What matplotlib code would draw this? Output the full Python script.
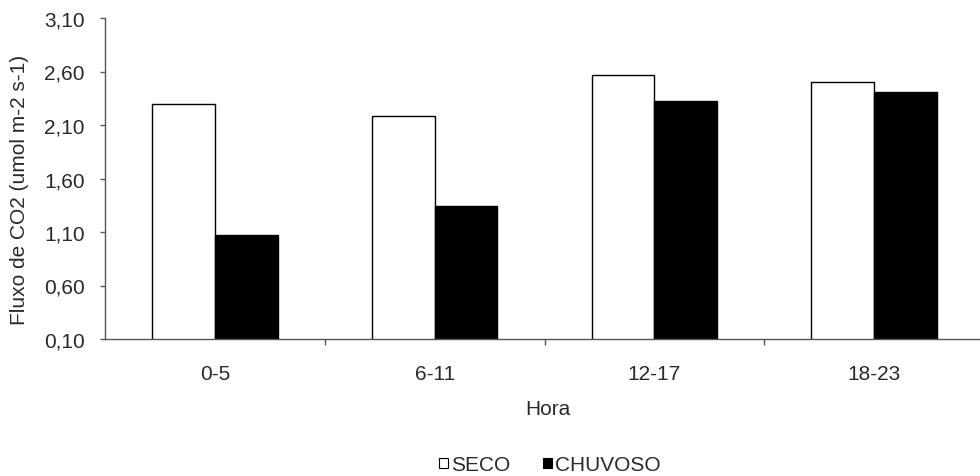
import matplotlib
matplotlib.use("Agg")
import matplotlib.pyplot as plt
from matplotlib.patches import Patch
from matplotlib.ticker import FixedLocator, FuncFormatter
import numpy as np

plt.rcParams['font.family'] = ['Liberation Sans', 'DejaVu Sans']

horas = ["0-5", "6-11", "12-17", "18-23"]
seco = [2.30, 2.18, 2.57, 2.50]
chuvoso = [1.07, 1.34, 2.32, 2.41]
yticks = [0.10, 0.60, 1.10, 1.60, 2.10, 2.60, 3.10]

FS = 15
TXT = "#2a2a2a"
AXC = "#555555"

W, H = 980, 477
fig = plt.figure(figsize=(W / 100, H / 100), dpi=100)
left, right, top, bottom = 105, 984, 19, 340
ax = fig.add_axes([left / W, (H - bottom) / H, (right - left) / W, (bottom - top) / H])

x = np.arange(len(horas)) + 0.5
bw = 0.285
ax.bar(x - bw / 2, seco, bw, bottom=0, color="white", edgecolor="black", linewidth=1.0)
ax.bar(x + bw / 2, chuvoso, bw, bottom=0, color="black", edgecolor="black", linewidth=1.0)

ax.set_xlim(0, len(horas))
ax.set_ylim(0.10, 3.10)
ax.set_yticks(yticks)
ax.yaxis.set_major_formatter(FuncFormatter(lambda v, p: f"{v:.2f}".replace(".", ",")))

# separators between hour groups as major ticks, group names as minor labels
ax.xaxis.set_major_locator(FixedLocator([1, 2, 3]))
ax.set_xticklabels([])
ax.set_xticks(x, minor=True)
ax.set_xticklabels(horas, minor=True)
ax.tick_params(axis="x", which="minor", length=0, pad=18)
ax.tick_params(axis="x", which="major", length=4.5, width=1, color=AXC)
ax.tick_params(axis="y", length=3.6, width=1, color=AXC, pad=11)
ax.tick_params(which="both", labelsize=FS, labelcolor=TXT)

for s in ["top", "right"]:
    ax.spines[s].set_visible(False)
for s in ["left", "bottom"]:
    ax.spines[s].set_color(AXC)
    ax.spines[s].set_linewidth(1.0)

ax.set_ylabel("Fluxo de CO2 (umol m-2 s-1)", fontsize=FS, color=TXT)
ax.set_xlabel("Hora", fontsize=FS, color=TXT)

# place the axis titles in figure coordinates
ax.yaxis.set_label_coords(20 / W, 1 - 190 / H, transform=fig.transFigure)
ax.xaxis.set_label_coords(548 / W, 1 - 410 / H, transform=fig.transFigure)
ax.xaxis.label.set_verticalalignment("center")
ax.yaxis.label.set_verticalalignment("center")

handles = [Patch(facecolor="white", edgecolor="black", linewidth=0.8, label="SECO"),
           Patch(facecolor="black", edgecolor="black", linewidth=0.8, label="CHUVOSO")]
fig.legend(handles=handles, loc="center", bbox_to_anchor=(550 / W, 1 - 466 / H),
           ncol=2, frameon=False, fontsize=FS, handlelength=0.42, handleheight=0.42,
           handletextpad=0.15, columnspacing=1.6, labelcolor=TXT, borderpad=0)

fig.savefig("out.png", dpi=100)
